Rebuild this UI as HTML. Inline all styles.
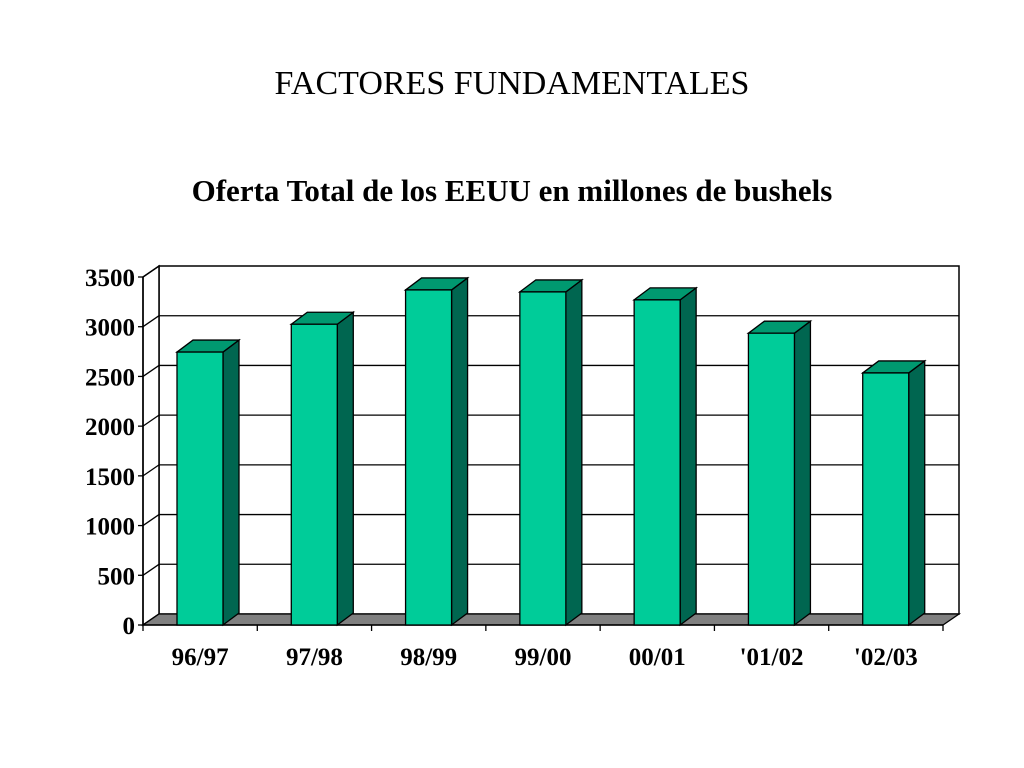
<!DOCTYPE html>
<html><head><meta charset="utf-8"><style>
body{margin:0;background:#fff;}
svg{display:block;font-family:"Liberation Serif",serif;}
</style></head><body>
<svg id="c" width="1024" height="768" viewBox="0 0 1024 768">
<text x="512" y="94" text-anchor="middle" font-size="34">FACTORES FUNDAMENTALES</text>
<text x="512" y="201" text-anchor="middle" font-size="31" font-weight="bold">Oferta Total de los EEUU en millones de bushels</text>
<g id="g"></g>
</svg>
<script>
const categories=["96/97","97/98","98/99","99/00","00/01","'01/02","'02/03"];
const values=[2745,3025,3370,3350,3270,2935,2535];
const yTicks=[0,500,1000,1500,2000,2500,3000,3500];
const NS="http://www.w3.org/2000/svg";
const g=document.getElementById('g');
const X0=143,Y0=625,DX=16,DY=11,W=800,YMAX=3500,H=348;
const catW=W/categories.length;
function y(v){return Y0-v/YMAX*H;}
function x(i){return X0+i*catW;}
function mk(t,a,name){const e=document.createElementNS(NS,t);for(const k in a)e.setAttribute(k,a[k]);


g.appendChild(e);return e;}
// back wall
mk('rect',{x:X0+DX,y:y(YMAX)-DY,width:W,height:H,fill:'#fff',stroke:'#000','stroke-width':1.5},'back-wall');
mk('polygon',{points:`${X0},${y(YMAX)} ${X0+DX},${y(YMAX)-DY} ${X0+DX},${Y0-DY} ${X0},${Y0}`,fill:'#fff',stroke:'#000','stroke-width':1.5},'side-wall');
yTicks.forEach(v=>{
 if(v>0&&v<YMAX) mk('line',{x1:X0+DX,y1:y(v)-DY,x2:X0+DX+W,y2:y(v)-DY,stroke:'#000','stroke-width':1.3},'gridline');
 mk('line',{x1:X0,y1:y(v),x2:X0+DX,y2:y(v)-DY,stroke:'#000','stroke-width':1.3},'gridline-side');
 mk('line',{x1:X0-5,y1:y(v),x2:X0,y2:y(v),stroke:'#000','stroke-width':1.3},'y-tick');
 const t=mk('text',{x:X0-8,y:y(v)+9,'text-anchor':'end','font-size':25,'font-weight':'bold'},'y-tick-label');t.textContent=v;
});
mk('polygon',{points:`${X0},${Y0} ${X0+DX},${Y0-DY} ${X0+DX+W},${Y0-DY} ${X0+W},${Y0}`,fill:'#808080',stroke:'#000','stroke-width':1.3},'floor');
mk('line',{x1:X0,y1:y(YMAX),x2:X0,y2:Y0,stroke:'#000','stroke-width':1.5},'y-axis');
mk('line',{x1:X0,y1:Y0,x2:X0+W,y2:Y0,stroke:'#000','stroke-width':1.5},'x-axis');
categories.forEach((c,i)=>{
 mk('line',{x1:x(i),y1:Y0,x2:x(i),y2:Y0+6,stroke:'#000','stroke-width':1.3},'x-tick');
 const bx=x(i)+34,bw=46,by=y(values[i]);
 mk('polygon',{points:`${bx+bw},${by} ${bx+bw+DX},${by-DY-1} ${bx+bw+DX},${Y0-DY-1} ${bx+bw},${Y0}`,fill:'#006650',stroke:'#000','stroke-width':1.3},'bar-side');
 mk('polygon',{points:`${bx},${by} ${bx+DX},${by-DY-1} ${bx+bw+DX},${by-DY-1} ${bx+bw},${by}`,fill:'#009970',stroke:'#000','stroke-width':1.3},'bar-top');
 mk('rect',{x:bx,y:by,width:bw,height:Y0-by,fill:'#00CC99',stroke:'#000','stroke-width':1.3},'bar');
 const t=mk('text',{x:x(i)+catW/2,y:665,'text-anchor':'middle','font-size':25,'font-weight':'bold'},'x-tick-label');t.textContent=c;
});
mk('line',{x1:X0+W,y1:Y0,x2:X0+W,y2:Y0+6,stroke:'#000','stroke-width':1.3},'x-tick');
</script>
</body></html>
